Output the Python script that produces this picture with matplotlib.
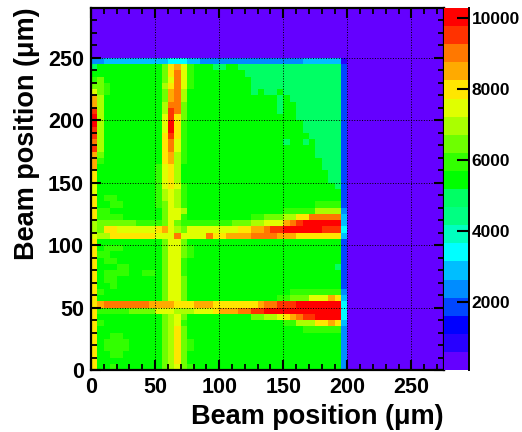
"""
Beam position map: charge per cell with a 20 band rainbow palette.
"""
import matplotlib
matplotlib.use('Agg')
import matplotlib.pyplot as plt
from matplotlib.colors import BoundaryNorm, ListedColormap
from matplotlib.ticker import MultipleLocator
import numpy as np

plt.rcParams['font.family'] = ['Liberation Sans', 'DejaVu Sans']

W, H = 522, 432
LEFT, RIGHT, TOP, BOTTOM = 91, 443.5, 8, 370
BAR_RIGHT = 469

X_MAX, Y_MAX = 275, 290
BIN = 5
Z_MIN, Z_MAX = 98, 10272

PALETTE = ['#6400ff', '#2800ff', '#0000ff', '#0046ff', '#008cff',
           '#00beff', '#00ffff', '#00ffbe', '#00ff82', '#00ff64',
           '#00ff00', '#32ff00', '#6eff00', '#aaff00', '#e0ff00',
           '#ffe600', '#ffaa00', '#ff7800', '#ff3200', '#ff0000']

# one letter per cell, a = lowest band, t = highest band
# rows run from y = 0 upwards, columns from x = 0 in groups of ten
# everything past x = 200 or above y = 250 is band a
cell_levels = [
    "pkklkkkkkk kmnomlkkkk kkkkkkkkkk kkkkkkkkke",
    "pkkkkkkkkk kmnpmkkkkk kkkkkkkkkk kkkkkkkkke",
    "pkkllkkkkk kmnpmkkkkk kkkkkkkkkk kkkkkkkkke",
    "pkllllkkkk kmnpmlkkkk kkkkkkkkkk kkkkkkkkke",
    "pkllllkkkk kmnpmlkkkk kkkkkkkkkk kkkkkkkkke",
    "pkkllkkkkk kmnpmkkkkk kkkkkkkkkk kkkkkkkkke",
    "pkkkkkkkkk kmnpmkkkkk kkkkkkkkkk kkklllllle",
    "plkkkkkkkk kmnolkkkkk kkkkkkkkkk llnnnppqpf",
    "pkkkkkkkkk kmnomkkkkk kkkkkmmnno pqrssttttg",
    "plllllmmmm ooonnnooop qqqrrssttt tttttttttg",
    "pqrrrrrrrq qqqpppqqqp ppppppqrrs sstttttttg",
    "pkkkkkkkkk kmoomkkkkk kkkkkkkkkl lmmmoooqpf",
    "plkkkkkkkk kmoomkkkkk kkkkkkkkkk klllllllle",
    "pkklkkkkkk kmoomkkkkk kkkkkkkkkk kkkkkkkkkd",
    "pkllkkkkkk kmoomkkkkk kkkkkkkkkk kkkkkkkkkd",
    "pkllllkkll kmoolkkkkk kkkkkkkkkk kkkkkkkkkd",
    "pkkkllkkkk kmoolkkkkk kkkkkkkkkk kkkkkkkkjd",
    "pkllkkkkkk kmoolkkkkk kkkkkkkkkk kkkkkkkkkd",
    "pllkkkkkkk kmoomlkkkk kkkkkkkkkk kkkkkkkkkd",
    "pklllkkkkk kmoomlkkkk kkkkkkkkkk kkkkkkkkkd",
    "pkkkkkkkkk kmoomkkkkk kkkkkkkkkk kkkkkkkkkd",
    "onnppppppp oooroooorp pqqqqrrrrq qqpppppppf",
    "nmppoooooo pqonmooooo oooppqqrss ttttttsssg",
    "nmmmmmmlll lmomllllll llmmmnnooo qrsttttttf",
    "pllllkkkkk kmoolkkkkk kkkkkllmmm nnpprrrrrf",
    "pllkkkkkkk kmoonkkkkk kkkkkkkkkk lllllnnnne",
    "pkkllkkkkk lmonlkkkkk kkkkkkkkkk kkkkklllld",
    "pkllkkkkkk lnonlkkkkk kkkkkkkkkk kkkkkkkkkd",
    "okkkkkkkkk lnonlkkkkk kkkkkkkkkk kkkkkkkkkd",
    "okkkkkkkkk lopolkkkkk kkkkkkkkkk kkkkkkkkjd",
    "pkkkkkkkkk lopnkkkkkk kkkkkkkkkk kkkkkkkjjd",
    "pkkkkkkkkk lopnkkkkkk kkkkkkkkkk kkkkkkkjjd",
    "qkkkkkkkkk lopnkkkkkk kkkkkkkkkk kkkkkkjjjd",
    "qlkkkkkkkk kpqnlkkkkk kkkkkkkkkk kkkkkkjjjd",
    "qmkkkkkkkk kpqnlkkkkk kkkkkkkkkk kkkkkjjjjd",
    "snkkkkkkkk kprolkkkkk kkkkkkkkkk kkkkkjjjjd",
    "rnkkkkkkkk kprolkkkkk kkkkkkkkkk jkkjkjjjjd",
    "snkkkkkkkk kpsplkkkkk kkkkkkkkkk kkkkjjjjjd",
    "snkkkkkkkk kotplkkkkk kkkkkkkkkk kkkjjjjjjd",
    "tnkkkkkkkk kotplkkkkk kkkkkkkkkk kkkjjjjjjd",
    "tnkkkkkkkk kospmkkkkk kkkkkkkkkk kkjjjjjjjd",
    "snkkkkkkkk knsrmkkkkk kkkkkkkkkj kkjjjjjjjd",
    "qnkkkkkkkk knrrmkkkkk kkkkkkkkkj kkjjjjjjjd",
    "qnkkkkkkkk kmqrnkkkkk kkkkkkkkkj kjjjjjjjjd",
    "omlkkkkkkk kmqrnkkkkk kkkkkjkjjk jjjjjjjjjd",
    "mmlkkkkkkk knprolkkkk kkkkkjjjjj jjjjjjjjjd",
    "lmkkkkkkkk kmorolkkkk kkkkkjjjjj jjjjjjjjjd",
    "kkkkkkkkkk kmprolkkkk kkkkjjjjjj jjjjjjjjjd",
    "jkkkkkkkkk kmpqolkkkj jkkjjjjjjj jjjjjjjjjd",
    "eeffffffff ffgggffeee eeeeeeeeee eeeffffffb",
]

x_edges = np.arange(0, X_MAX + BIN, BIN)
y_edges = np.arange(0, Y_MAX + BIN, BIN)
z_edges = np.linspace(Z_MIN, Z_MAX, len(PALETTE) + 1)

grid = np.zeros((len(y_edges) - 1, len(x_edges) - 1), dtype=int)
for row, letters in enumerate(cell_levels):
    for col, letter in enumerate(letters.replace(' ', '')):
        grid[row, col] = ord(letter) - ord('a')
# cell value sits in the middle of its band
values = z_edges[grid] + (z_edges[1] - z_edges[0]) / 2

cmap = ListedColormap(PALETTE)
norm = BoundaryNorm(z_edges, cmap.N)

fig = plt.figure(figsize=(W / 100, H / 100), dpi=100)
ax = fig.add_axes([LEFT / W, 1 - BOTTOM / H, (RIGHT - LEFT) / W, (BOTTOM - TOP) / H])
ax.pcolormesh(x_edges, y_edges, values, cmap=cmap, norm=norm, zorder=1)
ax.set_xlim(0, X_MAX)
ax.set_ylim(0, Y_MAX)

ax.xaxis.set_major_locator(MultipleLocator(50))
ax.xaxis.set_minor_locator(MultipleLocator(10))
ax.yaxis.set_major_locator(MultipleLocator(50))
ax.yaxis.set_minor_locator(MultipleLocator(10))
ax.tick_params(which='major', direction='in', length=7.5, width=1.5, top=True, right=True,
               labelsize=15.5, pad=5)
ax.tick_params(which='minor', direction='in', length=4, width=1.3, top=True, right=True)
ax.grid(True, which='major', color='black', linestyle=':', linewidth=0.7, zorder=2)
ax.set_axisbelow(False)
for spine in ax.spines.values():
    spine.set_linewidth(1.6)
for label in ax.get_xticklabels() + ax.get_yticklabels():
    label.set_fontweight('bold')
ax.set_xlabel('Beam position (\u03bcm)', fontsize=19.5, fontweight='bold', loc='right', labelpad=4)
ax.set_ylabel('Beam position (\u03bcm)', fontsize=19.5, fontweight='bold', labelpad=6, y=0.652)

cax = fig.add_axes([RIGHT / W, 1 - BOTTOM / H, (BAR_RIGHT - RIGHT) / W, (BOTTOM - TOP) / H])
cax.pcolormesh([0, 1], z_edges, (z_edges[:-1] + z_edges[1:]).reshape(-1, 1) / 2, cmap=cmap, norm=norm)
cax.set_xlim(0, 1)
cax.set_ylim(Z_MIN, Z_MAX)
cax.set_xticks([])
cax.yaxis.tick_right()
cax.set_yticks([2000, 4000, 6000, 8000, 10000])
cax.tick_params(direction='in', length=9, width=1.5, labelsize=12.5, pad=2)
for label in cax.get_yticklabels():
    label.set_fontweight('bold')
for name, spine in cax.spines.items():
    spine.set_visible(name == 'right')
    spine.set_linewidth(1.4)

fig.savefig('out.png', dpi=100)
